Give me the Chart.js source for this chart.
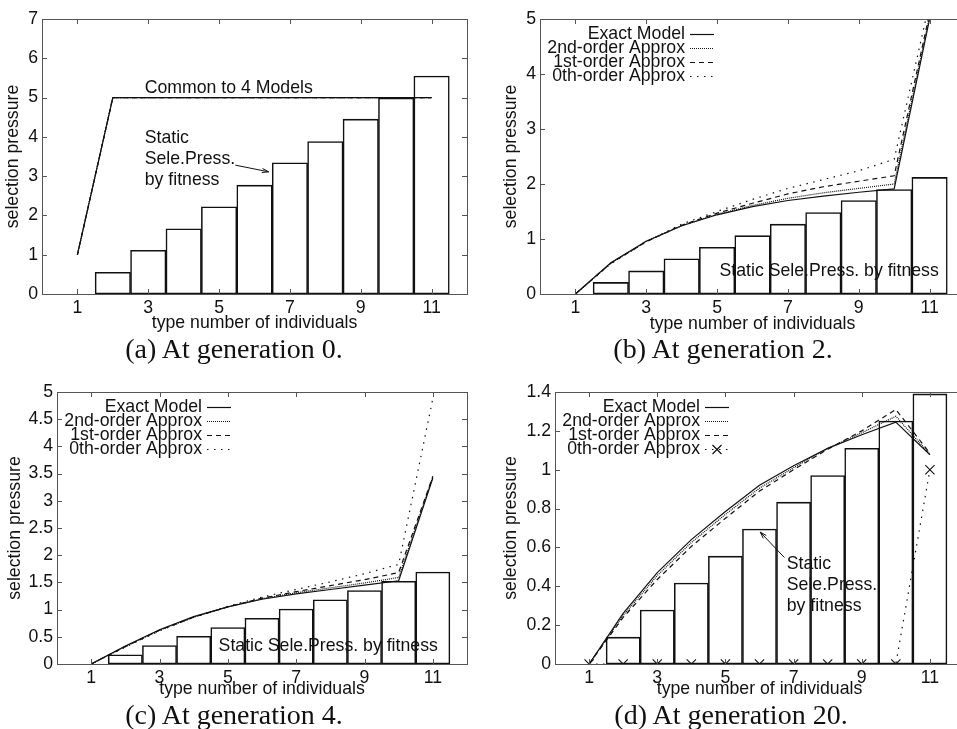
<!DOCTYPE html>
<html>
<head>
<meta charset="utf-8">
<script src="https://cdn.jsdelivr.net/npm/chart.js@4.4.0/dist/chart.umd.min.js"></script>
<style>
  html, body { margin: 0; padding: 0; background: #fff; overflow: hidden; width: 957px; height: 729px; }
  canvas { position: absolute; }
  .caption {
    position: absolute; width: 320px; text-align: center; line-height: 1;
    font-family: 'Liberation Serif', 'DejaVu Serif', serif; font-size: 28px; color: #111;
  }
</style>
</head>
<body>
<canvas id="panel-a" width="478" height="334" style="left:0;top:0"></canvas>
<canvas id="panel-b" width="500" height="335" style="left:478px;top:0"></canvas>
<canvas id="panel-c" width="478" height="328" style="left:0;top:372px"></canvas>
<canvas id="panel-d" width="500" height="328" style="left:478px;top:372px"></canvas>
<div class="caption" style="left:74px;top:335px">(a) At generation 0.</div>
<div class="caption" style="left:563px;top:335px">(b) At generation 2.</div>
<div class="caption" style="left:74px;top:701px">(c) At generation 4.</div>
<div class="caption" style="left:571px;top:701px">(d) At generation 20.</div>
<script>
// type numbers on the x axis and the labelled ticks
const types = [1, 2, 3, 4, 5, 6, 7, 8, 9, 10, 11];
const xTicks = [1, 3, 5, 7, 9, 11];

// generation 0
const yTicksGen0 = [0, 1, 2, 3, 4, 5, 6, 7];
const staticGen0 = [0, 0.55, 1.11, 1.66, 2.22, 2.77, 3.34, 3.88, 4.45, 4.99, 5.55];
const commonGen0 = [1, 5, 5, 5, 5, 5, 5, 5, 5, 5, 5];

// generation 2
const yTicksGen2 = [0, 1, 2, 3, 4, 5];
const staticGen2 = [0, 0.21, 0.42, 0.64, 0.85, 1.06, 1.27, 1.48, 1.70, 1.90, 2.12];
const exactGen2 = [0, 0.57, 0.96, 1.24, 1.44, 1.59, 1.70, 1.78, 1.85, 1.91, 5.0];
const secondGen2 = [0, 0.56, 0.96, 1.24, 1.45, 1.61, 1.74, 1.84, 1.92, 2.00, 5.05];
const firstGen2 = [0, 0.56, 0.95, 1.25, 1.47, 1.65, 1.82, 1.95, 2.05, 2.15, 5.1];
const zerothGen2 = [0, 0.55, 0.95, 1.27, 1.50, 1.72, 1.92, 2.08, 2.24, 2.45, 5.3];

// generation 4
const yTicksGen4 = [0, 0.5, 1, 1.5, 2, 2.5, 3, 3.5, 4, 4.5, 5];
const staticGen4 = [0, 0.17, 0.34, 0.51, 0.67, 0.84, 1.01, 1.18, 1.35, 1.52, 1.69];
const exactGen4 = [0, 0.33, 0.63, 0.87, 1.05, 1.19, 1.29, 1.37, 1.45, 1.53, 3.42];
const secondGen4 = [0, 0.32, 0.62, 0.86, 1.05, 1.20, 1.31, 1.40, 1.49, 1.59, 3.44];
const firstGen4 = [0, 0.32, 0.62, 0.86, 1.05, 1.21, 1.33, 1.44, 1.55, 1.68, 3.45];
const zerothGen4 = [0, 0.31, 0.61, 0.86, 1.06, 1.23, 1.37, 1.51, 1.66, 1.83, 4.88];

// generation 20
const yTicksGen20 = [0, 0.2, 0.4, 0.6, 0.8, 1, 1.2, 1.4];
const staticGen20 = [0, 0.138, 0.278, 0.417, 0.555, 0.695, 0.833, 0.97, 1.11, 1.25, 1.39];
const exactGen20 = [0, 0.26, 0.47, 0.64, 0.785, 0.92, 1.02, 1.11, 1.18, 1.245, 1.077];
const secondGen20 = [0, 0.25, 0.455, 0.625, 0.77, 0.905, 1.01, 1.11, 1.19, 1.275, 1.08];
const firstGen20 = [0, 0.24, 0.435, 0.605, 0.75, 0.89, 1.0, 1.105, 1.2, 1.31, 1.085];
const zerothGen20 = [0, 0, 0, 0, 0, 0, 0, 0, 0, 0, 1.0];

const INK = '#111';
const FONT = { family: "'Liberation Sans', Arial, sans-serif", size: 17.7 };
const FONT_CSS = "17.7px 'Liberation Sans', Arial, sans-serif";

// line styles of the four models
const STYLE = {
  exact: { label: 'Exact Model', dash: [] },
  second: { label: '2nd-order Approx', dash: [1, 1] },
  first: { label: '1st-order Approx', dash: [5, 4] },
  zeroth: { label: '0th-order Approx', dash: [1.5, 5.5] }
};

const toPoints = vals => vals.map((v, i) => ({ x: types[i], y: v }));

// gnuplot style box with inward tick marks on all four sides
const frameBox = {
  id: 'frameBox',
  afterDatasetsDraw(chart) {
    const { ctx, chartArea: a, scales: { x, y } } = chart;
    ctx.save();
    ctx.strokeStyle = '#555';
    ctx.lineWidth = 1;
    ctx.strokeRect(a.left + 0.5, a.top + 0.5, a.right - a.left, a.bottom - a.top);
    ctx.beginPath();
    x.ticks.forEach(t => {
      const px = Math.round(x.getPixelForValue(t.value)) + 0.5;
      ctx.moveTo(px, a.bottom); ctx.lineTo(px, a.bottom - 5);
      ctx.moveTo(px, a.top); ctx.lineTo(px, a.top + 5);
    });
    y.ticks.forEach(t => {
      const py = Math.round(y.getPixelForValue(t.value)) + 0.5;
      ctx.moveTo(a.left, py); ctx.lineTo(a.left + 5, py);
      ctx.moveTo(a.right, py); ctx.lineTo(a.right - 5, py);
    });
    ctx.stroke();
    ctx.restore();
  }
};

function arrow(ctx, x1, y1, x2, y2) {
  const ang = Math.atan2(y2 - y1, x2 - x1);
  ctx.beginPath();
  ctx.moveTo(x1, y1); ctx.lineTo(x2, y2);
  ctx.moveTo(x2 - 7 * Math.cos(ang - 0.3), y2 - 7 * Math.sin(ang - 0.3));
  ctx.lineTo(x2, y2);
  ctx.lineTo(x2 - 7 * Math.cos(ang + 0.3), y2 - 7 * Math.sin(ang + 0.3));
  ctx.stroke();
}

// key in the top left corner plus the text notes and arrows of one panel
function makeNotes(p) {
  return {
    id: 'notes',
    afterDatasetsDraw(chart) {
      const { ctx, chartArea: a, scales: { x, y } } = chart;
      ctx.save();
      ctx.font = FONT_CSS;
      ctx.fillStyle = INK;
      ctx.strokeStyle = INK;
      ctx.lineWidth = 1;
      ctx.textBaseline = 'middle';
      (p.notes || []).forEach(n => {
        ctx.textAlign = 'left';
        n.lines.forEach((txt, i) => {
          ctx.fillText(txt, x.getPixelForValue(n.x), y.getPixelForValue(n.y) + i * 21);
        });
      });
      (p.arrows || []).forEach(r => {
        arrow(ctx, x.getPixelForValue(r[0]), y.getPixelForValue(r[1]),
          x.getPixelForValue(r[2]), y.getPixelForValue(r[3]));
      });
      if (p.legend) {
        chart.data.datasets.filter(d => d.type === 'line').forEach((d, i) => {
          const ry = a.top + 15.5 + i * 14;
          ctx.textAlign = 'right';
          ctx.fillText(d.label, a.left + 145, ry);
          ctx.setLineDash(d.borderDash);
          ctx.lineWidth = 1.2;
          ctx.beginPath();
          ctx.moveTo(a.left + 150, ry); ctx.lineTo(a.left + 174, ry);
          ctx.stroke();
          ctx.setLineDash([]);
          if (d.pointRadius > 0) {
            const cx = a.left + 162;
            ctx.beginPath();
            ctx.moveTo(cx - 4.5, ry - 4.5); ctx.lineTo(cx + 4.5, ry + 4.5);
            ctx.moveTo(cx - 4.5, ry + 4.5); ctx.lineTo(cx + 4.5, ry - 4.5);
            ctx.stroke();
          }
        });
      }
      ctx.restore();
    }
  };
}

function buildPanel(id, p) {
  const datasets = p.lines.map(l => ({
    type: 'line',
    label: STYLE[l.model].label,
    data: toPoints(l.values),
    borderColor: INK,
    borderWidth: 1.2,
    borderDash: STYLE[l.model].dash,
    pointRadius: l.marker ? 6.5 : 0,
    pointStyle: 'crossRot',
    pointBorderColor: INK,
    pointBorderWidth: 1.1,
    tension: 0,
    fill: false
  }));
  datasets.push({
    type: 'bar',
    label: 'Static Sele.Press. by fitness',
    data: toPoints(p.bars),
    backgroundColor: 'rgba(0,0,0,0)',
    borderColor: INK,
    borderWidth: 0.9,
    borderSkipped: false,
    barPercentage: 1,
    categoryPercentage: 1
  });

  return new Chart(document.getElementById(id), {
    type: 'bar',
    data: { datasets },
    options: {
      responsive: false,
      animation: false,
      events: [],
      layout: { padding: p.pad },
      plugins: { legend: { display: false }, tooltip: { enabled: false } },
      scales: {
        x: {
          type: 'linear', min: 0, max: 12, offset: false,
          afterBuildTicks: s => { s.ticks = xTicks.map(v => ({ value: v })); },
          afterFit: s => { s.height = p.xHeight; },
          ticks: { font: FONT, color: INK, padding: 3, autoSkip: false, maxRotation: 0, callback: v => String(v) },
          grid: { display: false, drawTicks: false },
          border: { display: false },
          title: { display: true, text: 'type number of individuals', font: FONT, color: INK, padding: 0 }
        },
        y: {
          type: 'linear', min: 0, max: p.yTicks[p.yTicks.length - 1],
          afterBuildTicks: s => { s.ticks = p.yTicks.map(v => ({ value: v })); },
          afterFit: s => { s.width = p.yWidth; },
          ticks: { font: FONT, color: INK, padding: 4, callback: v => String(v) },
          grid: { display: false, drawTicks: false },
          border: { display: false },
          title: { display: true, text: 'selection pressure', font: FONT, color: INK, padding: { top: p.yTitlePad } }
        }
      }
    },
    plugins: [frameBox, makeNotes(p)]
  });
}

const allModels = vals => ['exact', 'second', 'first', 'zeroth'].map(m => ({ model: m, values: vals }));

buildPanel('panel-a', {
  pad: { top: 19, right: 11, left: 0, bottom: 0 }, yWidth: 42, xHeight: 40, yTitlePad: 2,
  yTicks: yTicksGen0, bars: staticGen0, lines: allModels(commonGen0), legend: false,
  notes: [
    { x: 2.9, y: 5.23, lines: ['Common to 4 Models'] },
    { x: 2.9, y: 3.98, lines: ['Static', 'Sele.Press.', 'by fitness'] }
  ],
  arrows: [[5.46, 3.28, 6.40, 3.11]]
});

buildPanel('panel-b', {
  pad: { top: 19, right: 13, left: 0, bottom: 0 }, yWidth: 62, xHeight: 41, yTitlePad: 22,
  yTicks: yTicksGen2, bars: staticGen2, legend: true,
  lines: [
    { model: 'exact', values: exactGen2 },
    { model: 'second', values: secondGen2 },
    { model: 'first', values: firstGen2 },
    { model: 'zeroth', values: zerothGen2 }
  ],
  notes: [{ x: 5.07, y: 0.42, lines: ['Static Sele.Press. by fitness'] }]
});

buildPanel('panel-c', {
  pad: { top: 20, right: 11, left: 0, bottom: 0 }, yWidth: 57, xHeight: 36, yTitlePad: 4,
  yTicks: yTicksGen4, bars: staticGen4, legend: true,
  lines: [
    { model: 'exact', values: exactGen4 },
    { model: 'second', values: secondGen4 },
    { model: 'first', values: firstGen4 },
    { model: 'zeroth', values: zerothGen4 }
  ],
  notes: [{ x: 4.73, y: 0.33, lines: ['Static Sele.Press. by fitness'] }]
});

buildPanel('panel-d', {
  pad: { top: 20, right: 14, left: 0, bottom: 0 }, yWidth: 77, xHeight: 36, yTitlePad: 22,
  yTicks: yTicksGen20, bars: staticGen20, legend: true,
  lines: [
    { model: 'exact', values: exactGen20 },
    { model: 'second', values: secondGen20 },
    { model: 'first', values: firstGen20 },
    { model: 'zeroth', values: zerothGen20, marker: true }
  ],
  notes: [{ x: 6.8, y: 0.515, lines: ['Static', 'Sele.Press.', 'by fitness'] }],
  arrows: [[6.73, 0.548, 6.02, 0.679]]
});
</script>
</body>
</html>
